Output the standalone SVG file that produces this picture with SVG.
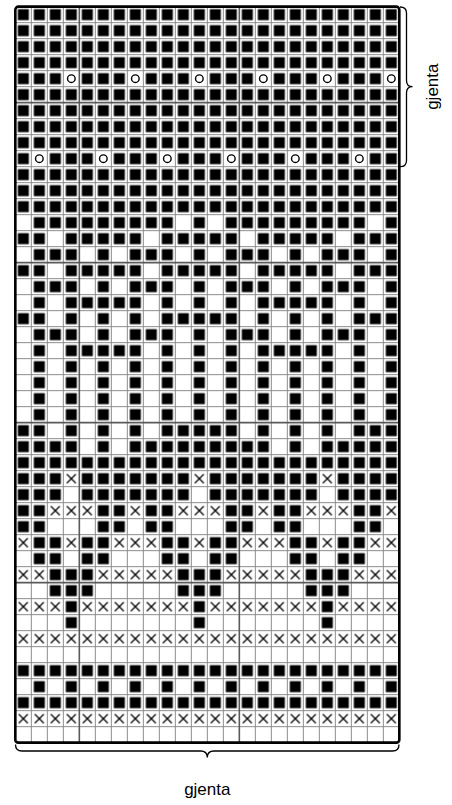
<svg xmlns="http://www.w3.org/2000/svg" width="452" height="805" viewBox="0 0 452 805">
<style>
.b{fill:url(#pb)}
.o{fill:url(#po)}
.x{fill:url(#px)}
.c{fill:#fff;stroke:#000;stroke-width:1.4}
.g{stroke:#8c8c8c;stroke-width:1;fill:none}
.gt{stroke:#5a5a5a;stroke-width:1.6;fill:none}
.bd{fill:none;stroke:#000;stroke-width:2.6}
.br{fill:none;stroke:#000;stroke-width:1.3}
.t{font-family:"Liberation Sans",Arial,sans-serif;font-size:17px;fill:#000;text-anchor:middle}
</style>
<defs>
<pattern id="pb" patternUnits="userSpaceOnUse" width="16" height="16"><rect x="2.5" y="2.5" width="11" height="11" fill="#000"/></pattern>
<pattern id="po" patternUnits="userSpaceOnUse" width="32" height="16"><rect x="18.5" y="2.5" width="11" height="11" fill="#000"/></pattern>
<pattern id="px" patternUnits="userSpaceOnUse" width="16" height="16"><path d="M3.5 3.5L12.5 12.5M12.5 3.5L3.5 12.5" stroke="#000" stroke-width="1.3" fill="none"/></pattern>
</defs>
<rect width="452" height="805" fill="#fff"/>
<g id="chart" transform="translate(15.33 6.67)">
<g id="cells">
<rect class="b" x="0" y="0" width="384" height="64"/>
<rect class="b" x="0" y="64" width="48" height="16"/><rect class="b" x="64" y="64" width="48" height="16"/><rect class="b" x="128" y="64" width="48" height="16"/><rect class="b" x="192" y="64" width="48" height="16"/><rect class="b" x="256" y="64" width="48" height="16"/><rect class="b" x="320" y="64" width="48" height="16"/>
<circle class="c" cx="56" cy="72" r="3.8"/><circle class="c" cx="120" cy="72" r="3.8"/><circle class="c" cx="184" cy="72" r="3.8"/><circle class="c" cx="248" cy="72" r="3.8"/><circle class="c" cx="312" cy="72" r="3.8"/><circle class="c" cx="376" cy="72" r="3.8"/>
<rect class="b" x="0" y="80" width="384" height="64"/>
<rect class="b" x="0" y="144" width="16" height="16"/><rect class="b" x="32" y="144" width="48" height="16"/><rect class="b" x="96" y="144" width="48" height="16"/><rect class="b" x="160" y="144" width="48" height="16"/><rect class="b" x="224" y="144" width="48" height="16"/><rect class="b" x="288" y="144" width="48" height="16"/><rect class="b" x="352" y="144" width="32" height="16"/>
<circle class="c" cx="24" cy="152" r="3.8"/><circle class="c" cx="88" cy="152" r="3.8"/><circle class="c" cx="152" cy="152" r="3.8"/><circle class="c" cx="216" cy="152" r="3.8"/><circle class="c" cx="280" cy="152" r="3.8"/><circle class="c" cx="344" cy="152" r="3.8"/>
<rect class="b" x="0" y="160" width="384" height="48"/>
<rect class="b" x="16" y="208" width="144" height="16"/><rect class="b" x="176" y="208" width="16" height="16"/><rect class="b" x="208" y="208" width="144" height="16"/><rect class="b" x="368" y="208" width="16" height="16"/>
<rect class="b" x="0" y="224" width="32" height="16"/><rect class="b" x="48" y="224" width="80" height="16"/><rect class="b" x="144" y="224" width="80" height="16"/><rect class="b" x="240" y="224" width="80" height="16"/><rect class="b" x="336" y="224" width="48" height="16"/>
<rect class="b" x="16" y="240" width="48" height="16"/><rect class="b" x="80" y="240" width="16" height="16"/><rect class="b" x="112" y="240" width="48" height="16"/><rect class="b" x="176" y="240" width="16" height="16"/><rect class="b" x="208" y="240" width="48" height="16"/><rect class="b" x="272" y="240" width="16" height="16"/><rect class="b" x="304" y="240" width="48" height="16"/><rect class="b" x="368" y="240" width="16" height="16"/>
<rect class="b" x="0" y="256" width="32" height="16"/><rect class="b" x="48" y="256" width="80" height="16"/><rect class="b" x="144" y="256" width="80" height="16"/><rect class="b" x="240" y="256" width="80" height="16"/><rect class="b" x="336" y="256" width="48" height="16"/>
<rect class="b" x="16" y="272" width="48" height="16"/><rect class="b" x="80" y="272" width="16" height="16"/><rect class="b" x="112" y="272" width="48" height="16"/><rect class="b" x="176" y="272" width="16" height="16"/><rect class="b" x="208" y="272" width="48" height="16"/><rect class="b" x="272" y="272" width="16" height="16"/><rect class="b" x="304" y="272" width="48" height="16"/><rect class="b" x="368" y="272" width="16" height="16"/>
<rect class="b" x="16" y="288" width="16" height="16"/><rect class="b" x="48" y="288" width="80" height="16"/><rect class="b" x="144" y="288" width="16" height="16"/><rect class="b" x="176" y="288" width="16" height="16"/><rect class="b" x="208" y="288" width="16" height="16"/><rect class="b" x="240" y="288" width="80" height="16"/><rect class="b" x="336" y="288" width="16" height="16"/><rect class="b" x="368" y="288" width="16" height="16"/>
<rect class="b" x="0" y="304" width="32" height="16"/><rect class="b" x="48" y="304" width="16" height="16"/><rect class="b" x="80" y="304" width="16" height="16"/><rect class="b" x="112" y="304" width="16" height="16"/><rect class="b" x="144" y="304" width="80" height="16"/><rect class="b" x="240" y="304" width="16" height="16"/><rect class="b" x="272" y="304" width="16" height="16"/><rect class="b" x="304" y="304" width="16" height="16"/><rect class="b" x="336" y="304" width="48" height="16"/>
<rect class="b" x="16" y="320" width="48" height="16"/><rect class="b" x="80" y="320" width="16" height="16"/><rect class="b" x="112" y="320" width="48" height="16"/><rect class="b" x="176" y="320" width="16" height="16"/><rect class="b" x="208" y="320" width="48" height="16"/><rect class="b" x="272" y="320" width="16" height="16"/><rect class="b" x="304" y="320" width="48" height="16"/><rect class="b" x="368" y="320" width="16" height="16"/>
<rect class="b" x="16" y="336" width="16" height="16"/><rect class="b" x="48" y="336" width="80" height="16"/><rect class="b" x="144" y="336" width="16" height="16"/><rect class="b" x="176" y="336" width="16" height="16"/><rect class="b" x="208" y="336" width="16" height="16"/><rect class="b" x="240" y="336" width="80" height="16"/><rect class="b" x="336" y="336" width="16" height="16"/><rect class="b" x="368" y="336" width="16" height="16"/>
<rect class="o" x="0" y="352" width="384" height="64"/>
<rect class="b" x="0" y="416" width="32" height="16"/><rect class="b" x="48" y="416" width="16" height="16"/><rect class="b" x="80" y="416" width="16" height="16"/><rect class="b" x="112" y="416" width="16" height="16"/><rect class="b" x="144" y="416" width="80" height="16"/><rect class="b" x="240" y="416" width="16" height="16"/><rect class="b" x="272" y="416" width="16" height="16"/><rect class="b" x="304" y="416" width="16" height="16"/><rect class="b" x="336" y="416" width="48" height="16"/>
<rect class="b" x="0" y="432" width="64" height="16"/><rect class="b" x="80" y="432" width="16" height="16"/><rect class="b" x="112" y="432" width="144" height="16"/><rect class="b" x="272" y="432" width="16" height="16"/><rect class="b" x="304" y="432" width="80" height="16"/>
<rect class="b" x="0" y="448" width="384" height="16"/>
<rect class="b" x="0" y="464" width="48" height="32"/><rect class="b" x="64" y="464" width="112" height="32"/><rect class="b" x="192" y="464" width="112" height="32"/><rect class="b" x="320" y="464" width="64" height="32"/>
<rect class="x" x="48" y="464" width="16" height="16"/><rect class="x" x="176" y="464" width="16" height="16"/><rect class="x" x="304" y="464" width="16" height="16"/>
<rect class="b" x="0" y="496" width="32" height="32"/><rect class="b" x="80" y="496" width="32" height="32"/><rect class="b" x="128" y="496" width="32" height="32"/><rect class="b" x="208" y="496" width="32" height="32"/><rect class="b" x="256" y="496" width="32" height="32"/><rect class="b" x="336" y="496" width="32" height="32"/>
<rect class="x" x="32" y="496" width="48" height="16"/><rect class="x" x="112" y="496" width="16" height="16"/><rect class="x" x="160" y="496" width="48" height="16"/><rect class="x" x="240" y="496" width="16" height="16"/><rect class="x" x="288" y="496" width="48" height="16"/><rect class="x" x="368" y="496" width="16" height="16"/>
<rect class="b" x="16" y="528" width="32" height="32"/><rect class="b" x="64" y="528" width="32" height="32"/><rect class="b" x="144" y="528" width="32" height="32"/><rect class="b" x="192" y="528" width="32" height="32"/><rect class="b" x="272" y="528" width="32" height="32"/><rect class="b" x="320" y="528" width="32" height="32"/>
<rect class="x" x="0" y="528" width="16" height="16"/><rect class="x" x="48" y="528" width="16" height="16"/><rect class="x" x="96" y="528" width="48" height="16"/><rect class="x" x="176" y="528" width="16" height="16"/><rect class="x" x="224" y="528" width="48" height="16"/><rect class="x" x="304" y="528" width="16" height="16"/><rect class="x" x="352" y="528" width="32" height="16"/>
<rect class="b" x="32" y="560" width="48" height="32"/><rect class="b" x="160" y="560" width="48" height="32"/><rect class="b" x="288" y="560" width="48" height="32"/>
<rect class="x" x="0" y="560" width="32" height="16"/><rect class="x" x="80" y="560" width="80" height="16"/><rect class="x" x="208" y="560" width="80" height="16"/><rect class="x" x="336" y="560" width="48" height="16"/>
<rect class="b" x="48" y="592" width="16" height="32"/><rect class="b" x="176" y="592" width="16" height="32"/><rect class="b" x="304" y="592" width="16" height="32"/>
<rect class="x" x="0" y="592" width="48" height="16"/><rect class="x" x="64" y="592" width="112" height="16"/><rect class="x" x="192" y="592" width="112" height="16"/><rect class="x" x="320" y="592" width="64" height="16"/>
<rect class="x" x="0" y="624" width="384" height="16"/>
<rect class="b" x="0" y="656" width="384" height="16"/>
<rect class="o" x="0" y="672" width="384" height="16"/>
<rect class="b" x="0" y="688" width="384" height="16"/>
<rect class="x" x="0" y="704" width="384" height="16"/>
</g>
<g id="grid">
<path class="g" d="M16 0V736M32 0V736M48 0V736M80 0V736M96 0V736M112 0V736M128 0V736M144 0V736M160 0V736M176 0V736M192 0V736M208 0V736M240 0V736M256 0V736M272 0V736M288 0V736M304 0V736M320 0V736M336 0V736M352 0V736M368 0V736"/>
<path class="g" d="M0 16H384M0 32H384M0 48H384M0 64H384M0 80H384M0 112H384M0 128H384M0 144H384M0 160H384M0 176H384M0 192H384M0 208H384M0 224H384M0 240H384M0 272H384M0 288H384M0 304H384M0 320H384M0 336H384M0 352H384M0 368H384M0 384H384M0 400H384M0 432H384M0 448H384M0 464H384M0 480H384M0 496H384M0 512H384M0 528H384M0 544H384M0 560H384M0 592H384M0 608H384M0 624H384M0 640H384M0 656H384M0 672H384M0 688H384M0 704H384M0 720H384"/>
<path class="gt" d="M64 0V736M224 0V736M0 96H384M0 256H384M0 416H384M0 576H384"/>
<rect class="bd" x="0" y="0" width="384" height="736" rx="3"/>
</g>
</g>
<g id="connectors">
<path id="brace-right" class="br" d="M400 7Q406.5 7 406.5 13V80.5Q406.5 86.7 412.5 86.7Q406.5 86.7 406.5 93V160.5Q406.5 166.7 400 166.7"/>
<path id="brace-bottom" class="br" d="M15.5 744.5Q15.5 751 22 751H200.5Q207.3 751 207.3 757.5Q207.3 751 214 751H392.5Q399 751 399 744.5"/>
</g>
<g id="label-right"><text class="t" transform="translate(437.5 86.7) rotate(-90)">gjenta</text></g>
<g id="label-bottom"><text class="t" x="207.3" y="795">gjenta</text></g>
</svg>
